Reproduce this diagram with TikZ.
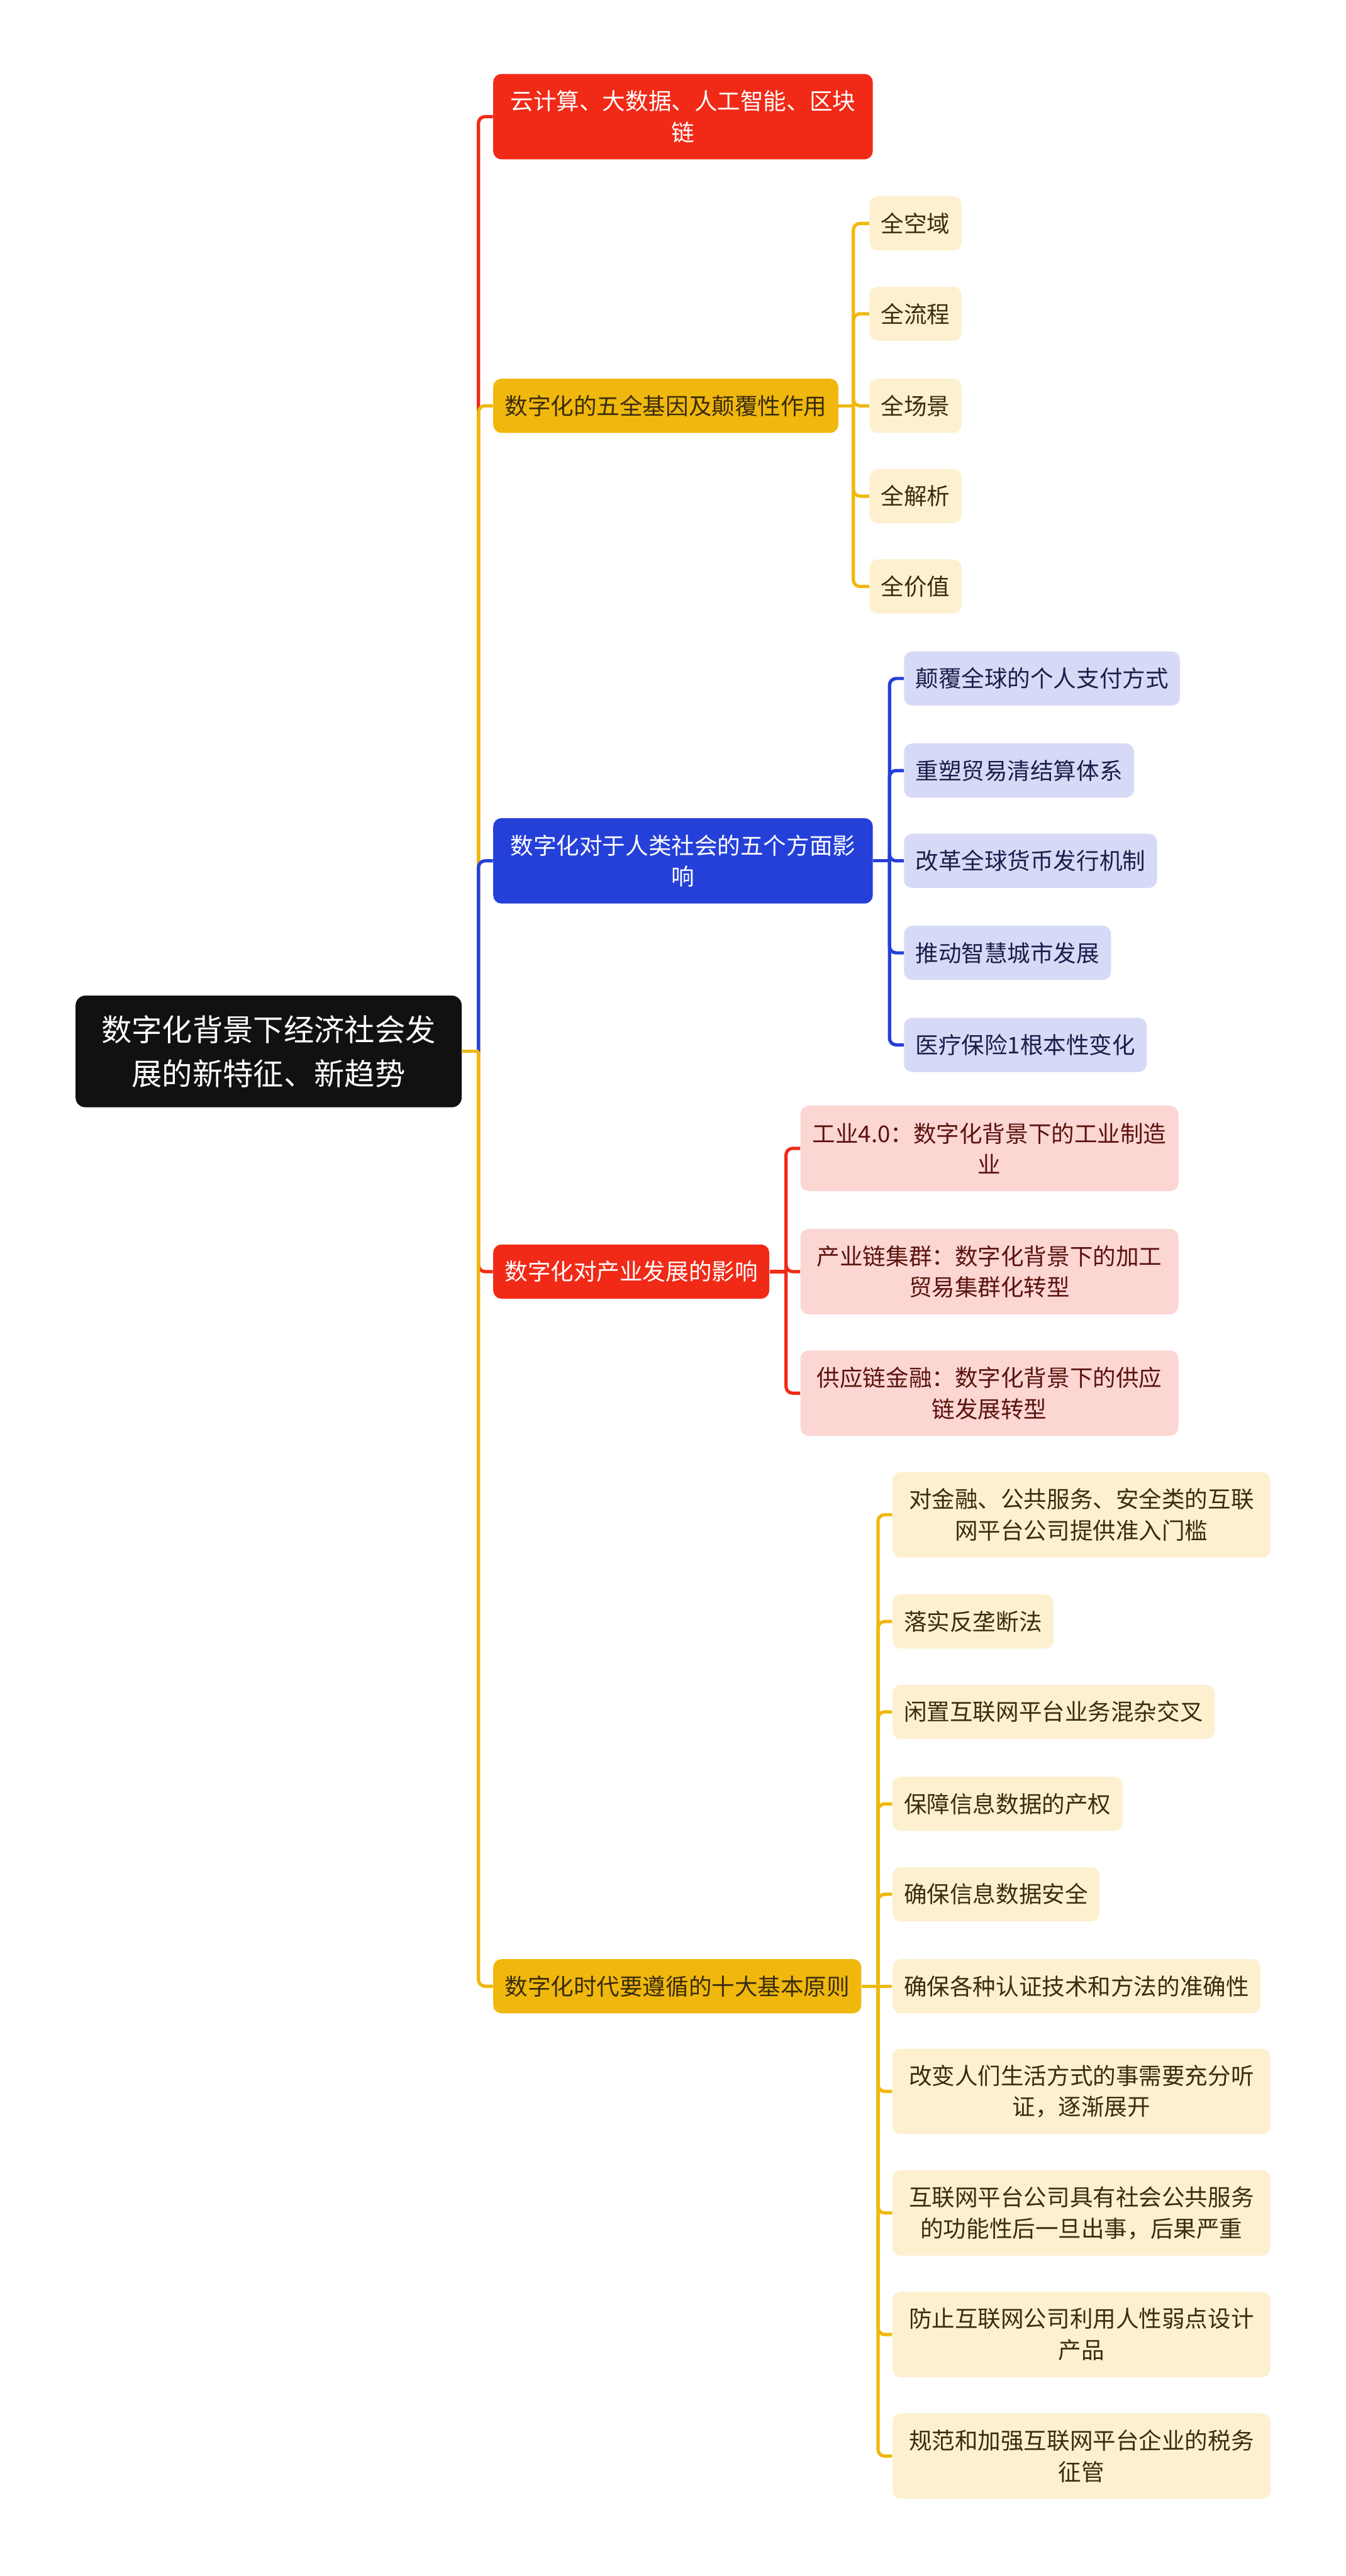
\documentclass[tikz,border=0pt]{standalone}
\usepackage{fontspec}
\setmainfont{Noto Sans CJK SC}
\usepackage{xcolor}
\usepackage{tikz}
\usetikzlibrary{positioning}
\definecolor{rootblack}{HTML}{111111}
\definecolor{mainred}{HTML}{F02A17}
\definecolor{mainyellow}{HTML}{F0B80D}
\definecolor{mainblue}{HTML}{2540D8}
\definecolor{lightyellow}{HTML}{FDF0CF}
\definecolor{lightlav}{HTML}{D7DAF6}
\definecolor{lightpink}{HTML}{FBD6D3}
\definecolor{textbrown}{HTML}{3B2C0E}
\definecolor{textnavy}{HTML}{1B1F4A}
\definecolor{textred}{HTML}{5C130E}
\tikzset{
  rootbox/.style={rectangle,rounded corners=6pt,fill=rootblack,text=white,minimum width=235pt,minimum height=68pt,align=center,font=\fontsize{18.5pt}{27pt}\selectfont,inner sep=0pt},
  topic/.style={rectangle,rounded corners=5pt,inner xsep=7pt,inner ysep=0pt,minimum height=33pt,align=center,font=\fontsize{14pt}{19pt}\selectfont,anchor=west},
  wide/.style={minimum width=230pt,minimum height=52pt},
  redtopic/.style={topic,fill=mainred,text=white},
  yellowtopic/.style={topic,fill=mainyellow,text=textbrown},
  bluetopic/.style={topic,fill=mainblue,text=white},
  yellowleaf/.style={topic,fill=lightyellow,text=textbrown},
  lavleaf/.style={topic,fill=lightlav,text=textnavy},
  pinkleaf/.style={topic,fill=lightpink,text=textred},
  stub/.style={line width=2pt},
  link/.style={line width=2pt,rounded corners=4pt}
}
\begin{document}
\begin{tikzpicture}[x=1pt,y=-1pt]
  \useasboundingbox (0,0) rectangle (819,1568);
  \node[rootbox] (root) at (163.5,640) {数字化背景下经济社会发\\展的新特征、新趋势};
  % first level
  \node[redtopic, wide, minimum width=231pt] (cloud) at (300,71) {云计算、大数据、人工智能、区块\\链};
  \node[yellowtopic] (gene) at (300,247) {数字化的五全基因及颠覆性作用};
  \node[bluetopic, wide, minimum width=231pt] (society) at (300,524) {数字化对于人类社会的五个方面影\\响};
  \node[redtopic] (industry) at (300,774) {数字化对产业发展的影响};
  \node[yellowtopic] (rules) at (300,1209) {数字化时代要遵循的十大基本原则};
  \coordinate (roothub) at ([xshift=10pt]root.east);
  \draw[link, mainred] (roothub) |- (cloud.west);
  \draw[link, mainyellow] (roothub) |- (gene.west);
  \draw[link, mainblue] (roothub) |- (society.west);
  \draw[link, mainred] (roothub) |- (industry.west);
  \draw[link, mainyellow] (roothub) |- (rules.west);
  \draw[stub, mainyellow] (root.east) -- (roothub);
  % five genes
  \node[yellowleaf] (gene1) at (529,136) {全空域};
  \node[yellowleaf] (gene2) at (529,191) {全流程};
  \node[yellowleaf] (gene3) at (529,247) {全场景};
  \node[yellowleaf] (gene4) at (529,302) {全解析};
  \node[yellowleaf] (gene5) at (529,357) {全价值};
  \coordinate (genehub) at ([xshift=9pt]gene.east);
  \draw[stub, mainyellow] (gene.east) -- (genehub);
  \draw[link, mainyellow] (genehub) |- (gene1.west);
  \draw[link, mainyellow] (genehub) |- (gene2.west);
  \draw[link, mainyellow] (genehub) |- (gene3.west);
  \draw[link, mainyellow] (genehub) |- (gene4.west);
  \draw[link, mainyellow] (genehub) |- (gene5.west);
  % society
  \node[lavleaf] (soc1) at (550,413) {颠覆全球的个人支付方式};
  \node[lavleaf] (soc2) at (550,469) {重塑贸易清结算体系};
  \node[lavleaf] (soc3) at (550,524) {改革全球货币发行机制};
  \node[lavleaf] (soc4) at (550,580) {推动智慧城市发展};
  \node[lavleaf] (soc5) at (550,636) {医疗保险1根本性变化};
  \coordinate (sochub) at ([xshift=10pt]society.east);
  \draw[stub, mainblue] (society.east) -- (sochub);
  \draw[link, mainblue] (sochub) |- (soc1.west);
  \draw[link, mainblue] (sochub) |- (soc2.west);
  \draw[link, mainblue] (sochub) |- (soc3.west);
  \draw[link, mainblue] (sochub) |- (soc4.west);
  \draw[link, mainblue] (sochub) |- (soc5.west);
  % industry
  \node[pinkleaf, wide] (ind1) at (487,699) {工业4.0：数字化背景下的工业制造\\业};
  \node[pinkleaf, wide] (ind2) at (487,774) {产业链集群：数字化背景下的加工\\贸易集群化转型};
  \node[pinkleaf, wide] (ind3) at (487,848) {供应链金融：数字化背景下的供应\\链发展转型};
  \coordinate (indhub) at ([xshift=10pt]industry.east);
  \draw[stub, mainred] (industry.east) -- (indhub);
  \draw[link, mainred] (indhub) |- (ind1.west);
  \draw[link, mainred] (indhub) |- (ind2.west);
  \draw[link, mainred] (indhub) |- (ind3.west);
  % ten rules
  \node[yellowleaf, wide] (rule1) at (543,922) {对金融、公共服务、安全类的互联\\网平台公司提供准入门槛};
  \node[yellowleaf] (rule2) at (543,987) {落实反垄断法};
  \node[yellowleaf] (rule3) at (543,1042) {闲置互联网平台业务混杂交叉};
  \node[yellowleaf] (rule4) at (543,1098) {保障信息数据的产权};
  \node[yellowleaf] (rule5) at (543,1153) {确保信息数据安全};
  \node[yellowleaf] (rule6) at (543,1209) {确保各种认证技术和方法的准确性};
  \node[yellowleaf, wide] (rule7) at (543,1273) {改变人们生活方式的事需要充分听\\证，逐渐展开};
  \node[yellowleaf, wide] (rule8) at (543,1347) {互联网平台公司具有社会公共服务\\的功能性后一旦出事，后果严重};
  \node[yellowleaf, wide] (rule9) at (543,1421) {防止互联网公司利用人性弱点设计\\产品};
  \node[yellowleaf, wide] (rule10) at (543,1495) {规范和加强互联网平台企业的税务\\征管};
  \coordinate (rulehub) at ([xshift=10pt]rules.east);
  \draw[stub, mainyellow] (rules.east) -- (rulehub);
  \draw[link, mainyellow] (rulehub) |- (rule1.west);
  \draw[link, mainyellow] (rulehub) |- (rule2.west);
  \draw[link, mainyellow] (rulehub) |- (rule3.west);
  \draw[link, mainyellow] (rulehub) |- (rule4.west);
  \draw[link, mainyellow] (rulehub) |- (rule5.west);
  \draw[link, mainyellow] (rulehub) -- (rule6.west);
  \draw[link, mainyellow] (rulehub) |- (rule7.west);
  \draw[link, mainyellow] (rulehub) |- (rule8.west);
  \draw[link, mainyellow] (rulehub) |- (rule9.west);
  \draw[link, mainyellow] (rulehub) |- (rule10.west);
\end{tikzpicture}
\end{document}
